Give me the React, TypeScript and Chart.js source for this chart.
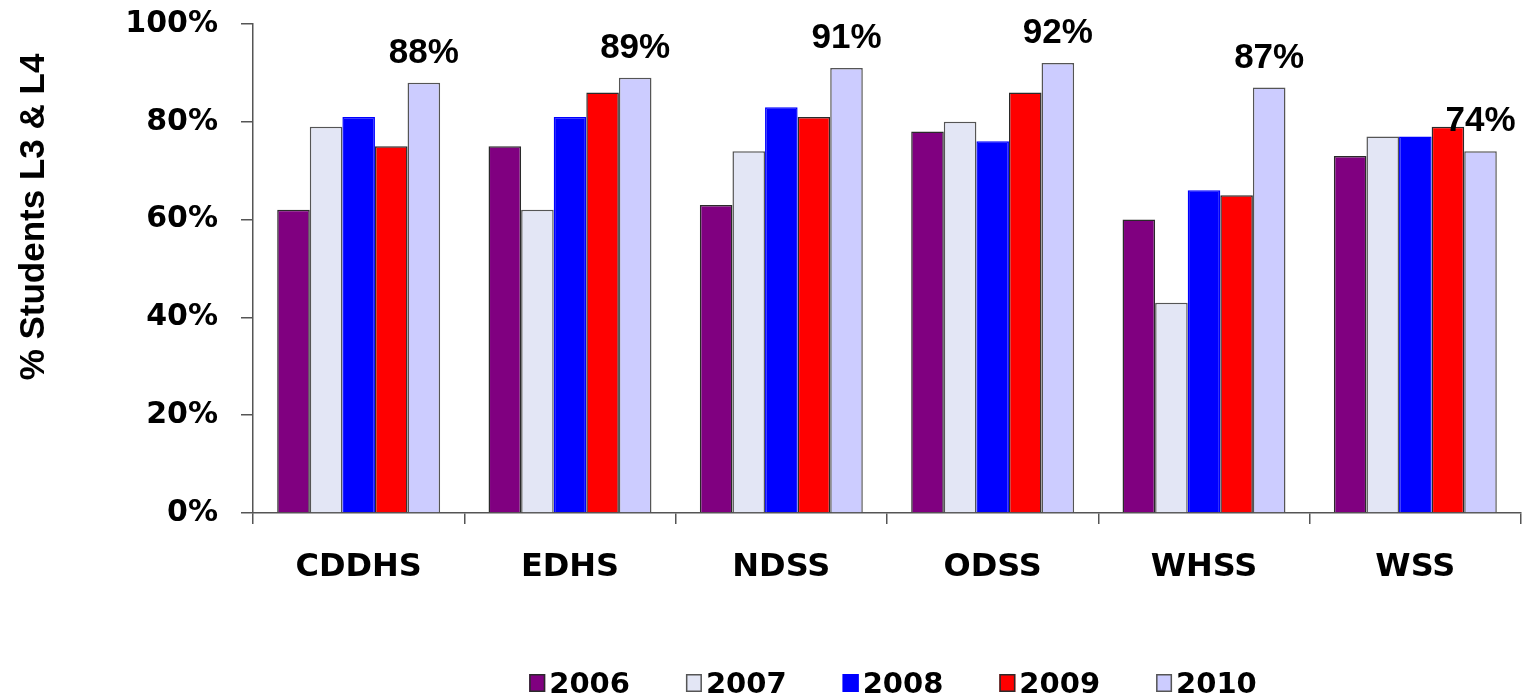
import React, { useEffect, useRef } from 'react';
import { Chart, registerables } from 'chart.js';

Chart.register(...registerables);

// ---- data ----
const categories = ['CDDHS', 'EDHS', 'NDSS', 'ODSS', 'WHSS', 'WSS'];
const years = ['2006', '2007', '2008', '2009', '2010'];
const values2006 = [62, 75, 63, 78, 60, 73];
const values2007 = [79, 62, 74, 80, 43, 77];
const values2008 = [81, 81, 83, 76, 66, 77];
const values2009 = [75, 86, 81, 86, 65, 79];
const values2010 = [88, 89, 91, 92, 87, 74];
const yTickValues = [0, 20, 40, 60, 80, 100];
const yTitle = '% Students L3 & L4';

// ---- styles ----
const fillColors = ['#800080', '#E3E6F5', '#0000FF', '#FF0000', '#CCCCFF'];
const edgeColors = ['#2a2a2a', '#555555', '#0000FF', '#2a2a2a', '#555555'];

const W = 1522;
const H = 698;

const overlayPlugin = {
  id: 'overlay',
  afterDatasetsDraw(chart: any) {
    const ctx = chart.ctx as CanvasRenderingContext2D;
    const area = chart.chartArea;
    // value labels on 2010 bars
    const meta = chart.getDatasetMeta(4);
    ctx.save();
    ctx.fillStyle = '#000';
    ctx.font = 'bold 35px "Liberation Sans", Arial, sans-serif';
    ctx.textAlign = 'center';
    ctx.textBaseline = 'alphabetic';
    meta.data.forEach((el: any, i: number) => {
      ctx.fillText(values2010[i] + '%', el.x, el.y - 20);
    });
    ctx.restore();

    // y-axis title
    ctx.save();
    ctx.fillStyle = '#000';
    ctx.font = 'bold 35px "Liberation Sans", Arial, sans-serif';
    ctx.translate(44, 217);
    ctx.rotate(-Math.PI / 2);
    ctx.textAlign = 'center';
    ctx.textBaseline = 'alphabetic';
    ctx.fillText(yTitle, 0, 0);
    ctx.restore();

    // legend
    ctx.save();
    ctx.font = 'bold 29px "DejaVu Sans", sans-serif';
    ctx.textAlign = 'left';
    ctx.textBaseline = 'alphabetic';
    const boxW = 16;
    const boxH = 18;
    const gapText = 4;
    const gapItem = 56;
    const widths = years.map((y) => ctx.measureText(y).width);
    const total =
      widths.reduce((s, w) => s + boxW + gapText + w, 0) + gapItem * (years.length - 1);
    let x = (area.left + area.right) / 2 + 6 - total / 2;
    const boxTop = 674;
    const baseline = 693;
    years.forEach((y, i) => {
      ctx.fillStyle = fillColors[i];
      ctx.fillRect(x, boxTop, boxW, boxH);
      ctx.strokeStyle = edgeColors[i];
      ctx.lineWidth = 1.5;
      ctx.strokeRect(x + 0.75, boxTop + 0.75, boxW - 1.5, boxH - 1.5);
      ctx.fillStyle = '#000';
      ctx.fillText(y, x + boxW + gapText, baseline);
      x += boxW + gapText + widths[i] + gapItem;
    });
    ctx.restore();
  },
};

export default function App() {
  const ref = useRef<HTMLCanvasElement | null>(null);

  useEffect(() => {
    document.body.style.margin = '0';
    const canvas = ref.current;
    if (!canvas) return;
    const seriesValues = [values2006, values2007, values2008, values2009, values2010];
    const chart = new Chart(canvas, {
      type: 'bar',
      data: {
        labels: categories,
        datasets: years.map((y, i) => ({
          label: y,
          data: seriesValues[i],
          backgroundColor: fillColors[i],
          borderColor: edgeColors[i],
          borderWidth: 1.5,
          borderSkipped: 'start',
          categoryPercentage: 0.771,
          barPercentage: 1,
        })),
      },
      options: {
        animation: false,
        responsive: false,
        devicePixelRatio: 1,
        layout: { padding: { top: 24, right: 1, left: 0, bottom: 0 } },
        plugins: {
          legend: { display: false },
          tooltip: { enabled: false },
          title: { display: false },
        },
        scales: {
          x: {
            grid: {
              display: true,
              offset: true,
              drawOnChartArea: false,
              drawTicks: true,
              tickLength: 11,
              color: '#555555',
              lineWidth: 1.5,
            },
            border: { display: true, color: '#555555', width: 1.5 },
            ticks: {
              color: '#000',
              font: { family: '"DejaVu Sans", sans-serif', size: 32, weight: 'bold' },
              padding: 24,
              maxRotation: 0,
              autoSkip: false,
            },
            afterFit: (axis: any) => {
              axis.height = H - 513;
              axis.paddingLeft = 0;
              axis.paddingRight = 0;
            },
          },
          y: {
            min: 0,
            max: 100,
            afterBuildTicks: (axis: any) => {
              axis.ticks = yTickValues.map((v) => ({ value: v }));
            },
            grid: {
              display: true,
              drawOnChartArea: false,
              drawTicks: true,
              tickLength: 12,
              color: '#555555',
              lineWidth: 1.5,
            },
            border: { display: true, color: '#555555', width: 1.5 },
            ticks: {
              color: '#000',
              font: { family: '"DejaVu Sans", sans-serif', size: 30, weight: 'bold' },
              padding: 23,
              callback: (v: any) => v + '%',
            },
            afterFit: (axis: any) => {
              axis.width = 253;
              axis.paddingTop = 0;
              axis.paddingBottom = 0;
            },
          },
        },
      },
      plugins: [overlayPlugin],
    });
    return () => chart.destroy();
  }, []);

  return (
    <div style={{ width: W, height: H, background: '#fff' }}>
      <canvas ref={ref} width={W} height={H} style={{ display: 'block' }} />
    </div>
  );
}
